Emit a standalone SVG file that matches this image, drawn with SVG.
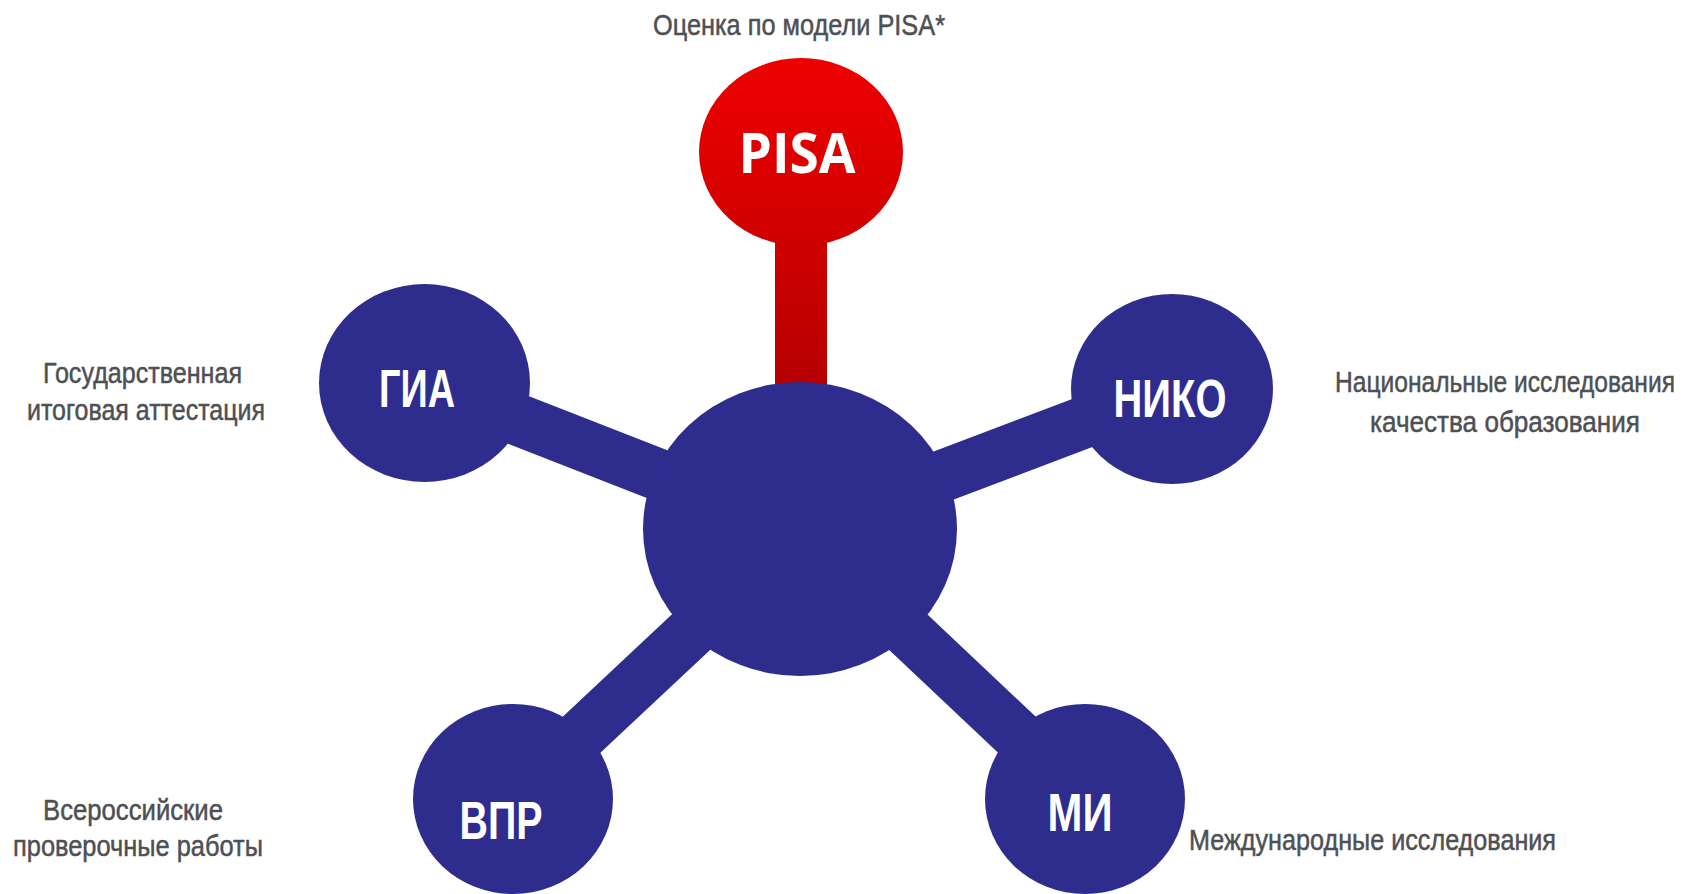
<svg xmlns="http://www.w3.org/2000/svg" width="1686" height="894" viewBox="0 0 1686 894">
<style>
.lbl{font-family:"Liberation Sans Narrow","Liberation Sans","DejaVu Sans Condensed",sans-serif;font-size:29px;fill:#4e5054;stroke:#4e5054;stroke-width:0.5px;}
.big{font-family:"Liberation Sans Narrow","Liberation Sans",sans-serif;font-weight:bold;font-size:54px;fill:#ffffff;text-anchor:middle;}
.pisa{font-family:"Open Sans","Liberation Sans",sans-serif;font-weight:bold;font-size:55px;fill:#ffffff;text-anchor:middle;}
.blue{fill:#2e2d8e;}
.bar{stroke:#2e2d8e;stroke-width:52;fill:none;}
.mid{text-anchor:middle;}
</style>
<defs>
<linearGradient id="gRed" x1="0" y1="0" x2="0" y2="1">
<stop offset="0" stop-color="#ef0000"/>
<stop offset="1" stop-color="#cf0000"/>
</linearGradient>
<linearGradient id="gStem" x1="0" y1="0" x2="0" y2="1">
<stop offset="0" stop-color="#d80000"/>
<stop offset="1" stop-color="#b30000"/>
</linearGradient>
</defs>
<rect width="1686" height="894" fill="#ffffff"/>
<g id="connectors">
<rect x="775" y="200" width="52" height="200" fill="url(#gStem)"/>
<line class="bar" x1="800" y1="530" x2="424" y2="383"/>
<line class="bar" x1="800" y1="530" x2="1172" y2="389"/>
<line class="bar" x1="800" y1="530" x2="513" y2="799"/>
<line class="bar" x1="800" y1="530" x2="1085" y2="799"/>
</g>
<g id="center">
<ellipse class="blue" cx="800" cy="529" rx="157" ry="147"/>
</g>
<g id="pisa">
<ellipse cx="801" cy="152" rx="102" ry="94" fill="url(#gRed)"/>
<text class="pisa" x="797" y="173" textLength="117" lengthAdjust="spacingAndGlyphs">PISA</text>
<text class="lbl mid" x="799" y="35" textLength="292" lengthAdjust="spacingAndGlyphs">Оценка по модели PISA*</text>
</g>
<g id="gia">
<ellipse class="blue" cx="424.5" cy="383" rx="105.5" ry="99"/>
<text class="big" x="417" y="407" textLength="76" lengthAdjust="spacingAndGlyphs">ГИА</text>
<text class="lbl mid" x="142.5" y="383" textLength="199" lengthAdjust="spacingAndGlyphs">Государственная</text>
<text class="lbl mid" x="146" y="420" textLength="238" lengthAdjust="spacingAndGlyphs">итоговая аттестация</text>
</g>
<g id="niko">
<ellipse class="blue" cx="1172" cy="389" rx="101" ry="95"/>
<text class="big" x="1170" y="417" textLength="113" lengthAdjust="spacingAndGlyphs">НИКО</text>
<text class="lbl mid" x="1505" y="392" textLength="340" lengthAdjust="spacingAndGlyphs">Национальные исследования</text>
<text class="lbl mid" x="1505" y="432" textLength="270" lengthAdjust="spacingAndGlyphs">качества образования</text>
</g>
<g id="vpr">
<ellipse class="blue" cx="513" cy="799" rx="100" ry="95"/>
<text class="big" x="501" y="839" textLength="83" lengthAdjust="spacingAndGlyphs">ВПР</text>
<text class="lbl mid" x="133" y="820" textLength="180" lengthAdjust="spacingAndGlyphs">Всероссийские</text>
<text class="lbl mid" x="138" y="856" textLength="250" lengthAdjust="spacingAndGlyphs">проверочные работы</text>
</g>
<g id="mi">
<ellipse class="blue" cx="1085" cy="799" rx="100" ry="95"/>
<text class="big" x="1080" y="831" textLength="65" lengthAdjust="spacingAndGlyphs">МИ</text>
<text class="lbl" x="1189" y="850" textLength="367" lengthAdjust="spacingAndGlyphs">Международные исследования</text>
</g>
</svg>
